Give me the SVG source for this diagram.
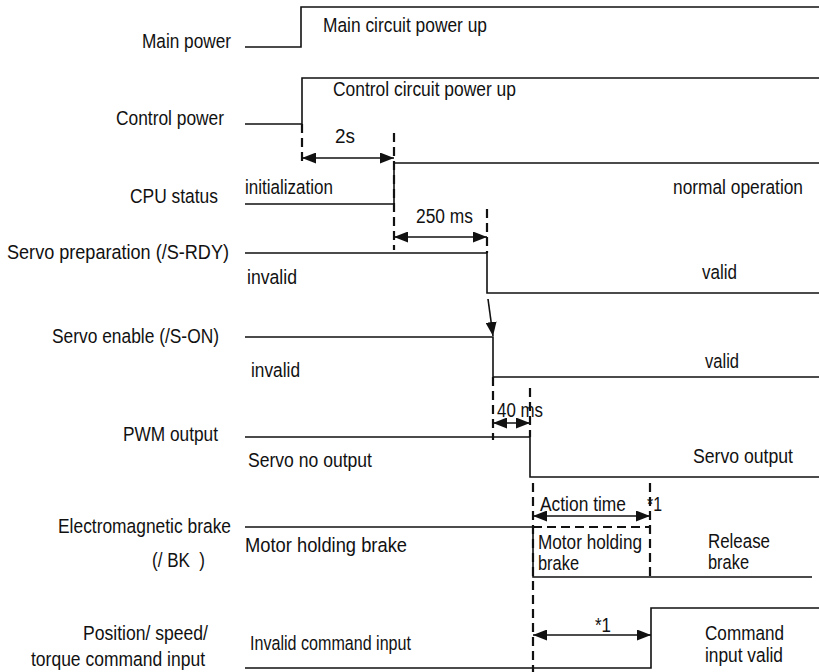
<svg xmlns="http://www.w3.org/2000/svg" width="819" height="672" viewBox="0 0 819 672">
<style>
text{font-family:"Liberation Sans",Arial,sans-serif;font-size:20.5px;fill:#111}
.s{fill:none;stroke:#111;stroke-width:1.6}
.d{fill:none;stroke:#111;stroke-width:2.2;stroke-dasharray:9,5}
.a{fill:none;stroke:#111;stroke-width:1.6;marker-start:url(#ah);marker-end:url(#ah)}
.a1{fill:none;stroke:#111;stroke-width:1.6;marker-end:url(#ah)}
</style>
<defs>
<marker id="ah" viewBox="0 0 14 11" refX="14" refY="5.5" markerWidth="14" markerHeight="11" markerUnits="userSpaceOnUse" orient="auto-start-reverse">
<path d="M0,0 L14,5.5 L0,11 Z" fill="#111"/>
</marker>
</defs>
<rect width="819" height="672" fill="#fff"/>
<g id="labels">
<text x="142" y="48" textLength="89" lengthAdjust="spacingAndGlyphs">Main power</text>
<text x="116" y="125" textLength="108" lengthAdjust="spacingAndGlyphs">Control power</text>
<text x="130" y="203" textLength="88" lengthAdjust="spacingAndGlyphs">CPU status</text>
<text x="7" y="259" textLength="222" lengthAdjust="spacingAndGlyphs">Servo preparation (/S-RDY)</text>
<text x="52" y="343" textLength="167" lengthAdjust="spacingAndGlyphs">Servo enable (/S-ON)</text>
<text x="123" y="441" textLength="95" lengthAdjust="spacingAndGlyphs">PWM output</text>
<text x="58" y="533" textLength="173" lengthAdjust="spacingAndGlyphs">Electromagnetic brake</text>
<text x="152" y="567" textLength="53" lengthAdjust="spacingAndGlyphs">(/ BK&#160; )</text>
<text x="83" y="640" textLength="125" lengthAdjust="spacingAndGlyphs">Position/ speed/</text>
<text x="31" y="666" textLength="174" lengthAdjust="spacingAndGlyphs">torque command input</text>
</g>
<g id="main-power">
<path class="s" d="M245,47 H301 V7 H819"/>
<text x="323" y="32" textLength="164" lengthAdjust="spacingAndGlyphs">Main circuit power up</text>
</g>
<g id="control-power">
<path class="s" d="M245,124 H302 V78 H819"/>
<text x="333" y="96" textLength="183" lengthAdjust="spacingAndGlyphs">Control circuit power up</text>
</g>
<g id="cpu-status">
<path class="s" d="M245,204 H394 V163 H819"/>
<text x="245" y="194" textLength="88" lengthAdjust="spacingAndGlyphs">initialization</text>
<text x="673" y="194" textLength="130" lengthAdjust="spacingAndGlyphs">normal operation</text>
</g>
<g id="servo-preparation">
<path class="s" d="M245,253 H487 V293 H819"/>
<text x="247" y="284" textLength="50" lengthAdjust="spacingAndGlyphs">invalid</text>
<text x="702" y="279" textLength="35" lengthAdjust="spacingAndGlyphs">valid</text>
</g>
<g id="servo-enable">
<path class="s" d="M245,337 H493 V377 H819"/>
<text x="251" y="377" textLength="49" lengthAdjust="spacingAndGlyphs">invalid</text>
<text x="705" y="368" textLength="34" lengthAdjust="spacingAndGlyphs">valid</text>
</g>
<g id="pwm-output">
<path class="s" d="M245,437 H530 V477 H819"/>
<text x="248" y="467" textLength="124" lengthAdjust="spacingAndGlyphs">Servo no output</text>
<text x="693" y="463" textLength="100" lengthAdjust="spacingAndGlyphs">Servo output</text>
</g>
<g id="brake">
<path class="s" d="M245,527 H533"/>
<path class="s" d="M533,527 V577 H812"/>
<path class="d" d="M533,527 H650"/>
<text x="245" y="552" textLength="162" lengthAdjust="spacingAndGlyphs">Motor holding brake</text>
<text x="538" y="549" textLength="104" lengthAdjust="spacingAndGlyphs">Motor holding</text>
<text x="538" y="570" textLength="41" lengthAdjust="spacingAndGlyphs">brake</text>
<text x="708" y="548" textLength="62" lengthAdjust="spacingAndGlyphs">Release</text>
<text x="708" y="569" textLength="41" lengthAdjust="spacingAndGlyphs">brake</text>
</g>
<g id="command-input">
<path class="s" d="M245,668 H651 V608 H819"/>
<text x="250" y="650" textLength="161" lengthAdjust="spacingAndGlyphs">Invalid command input</text>
<text x="705" y="640" textLength="79" lengthAdjust="spacingAndGlyphs">Command</text>
<text x="705" y="662" textLength="78" lengthAdjust="spacingAndGlyphs">input valid</text>
</g>
<g id="connectors">
<path class="d" d="M302,124 V166"/>
<path class="d" d="M394,133 V250"/>
<path class="d" d="M487,209 V253"/>
<path class="d" d="M493,377 V440"/>
<path class="d" d="M530,388 V437"/>
<path class="d" d="M533,483 V672"/>
<path class="d" d="M650,483 V577"/>
<path class="a" d="M302,158 H394"/>
<path class="a" d="M394,237 H487"/>
<path class="a" d="M493,423 H530"/>
<path class="a" d="M533,516 H650"/>
<path class="a" d="M533,635 H651"/>
<path class="a1" d="M488,299 L493,336"/>
<text x="335" y="143" textLength="20" lengthAdjust="spacingAndGlyphs">2s</text>
<text x="416" y="223" textLength="57" lengthAdjust="spacingAndGlyphs">250 ms</text>
<text x="497" y="417" textLength="46" lengthAdjust="spacingAndGlyphs">40 ms</text>
<text x="540" y="511" textLength="86" lengthAdjust="spacingAndGlyphs">Action time</text>
<text x="647" y="511" textLength="15" lengthAdjust="spacingAndGlyphs">*1</text>
<text x="595" y="632" textLength="16" lengthAdjust="spacingAndGlyphs">*1</text>
</g>
</svg>
